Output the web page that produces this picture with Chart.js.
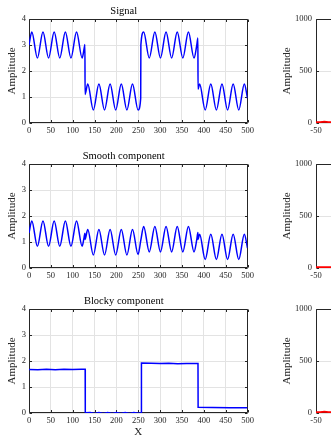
<!DOCTYPE html>
<html>
<head>
<meta charset="utf-8">
<script src="https://cdn.jsdelivr.net/npm/chart.js@4.4.0/dist/chart.umd.min.js"></script>
<style>
  html, body { margin: 0; padding: 0; background: #fff; }
  #wrap { position: relative; width: 331px; height: 436px; overflow: hidden; }
  canvas { position: absolute; }
</style>
</head>
<body>
<div id="wrap">
  <canvas id="sig" width="277" height="145" style="left:0;top:0"></canvas>
  <canvas id="smo" width="277" height="145" style="left:0;top:145px"></canvas>
  <canvas id="blk" width="277" height="149" style="left:0;top:290px"></canvas>
  <canvas id="sp1" width="277" height="145" style="left:277px;top:0"></canvas>
  <canvas id="sp2" width="277" height="145" style="left:277px;top:145px"></canvas>
  <canvas id="sp3" width="277" height="149" style="left:277px;top:290px"></canvas>
</div>
<script>
// tick labels
var xTicks = [0, 50, 100, 150, 200, 250, 300, 350, 400, 450, 500];
var yTicks = [0, 1, 2, 3, 4];
var specXTicks = [-50, 0, 50];
var specYTicks = [0, 500, 1000];

// signal (peaks / valleys / jumps)
var signalX = [0, 6.4, 19.2, 32, 44.8, 57.6, 70.4, 83.2, 96, 108.8, 121.6, 126, 128, 128.3,
  134.4, 147.2, 160, 172.8, 185.6, 198.4, 211.2, 224, 236.8, 249.6, 255.6, 256,
  262.4, 275.2, 288, 300.8, 313.6, 326.4, 339.2, 352, 364.8, 377.6, 384, 386.5, 386.8,
  390.4, 403.2, 416, 428.8, 441.6, 454.4, 467.2, 480, 492.8, 500];
var signalY = [3.0, 3.5, 2.5, 3.5, 2.5, 3.5, 2.5, 3.5, 2.5, 3.5, 2.5, 2.85, 3.02, 1.1,
  1.5, 0.5, 1.5, 0.5, 1.5, 0.5, 1.5, 0.5, 1.5, 0.5, 0.95, 3.0,
  3.5, 2.5, 3.5, 2.5, 3.5, 2.5, 3.5, 2.5, 3.5, 2.5, 3.0, 3.27, 1.3,
  1.5, 0.5, 1.5, 0.5, 1.5, 0.5, 1.5, 0.5, 1.5, 0.95];

// smooth component
var smoothX = [0, 6.4, 19.2, 32, 44.8, 57.6, 70.4, 83.2, 96, 108.8, 121.6, 126, 128, 128.3,
  134.4, 147.2, 160, 172.8, 185.6, 198.4, 211.2, 224, 236.8, 249.6, 256,
  262.4, 275.2, 288, 300.8, 313.6, 326.4, 339.2, 352, 364.8, 377.6, 384, 386.5, 386.8,
  390.4, 403.2, 416, 428.8, 441.6, 454.4, 467.2, 480, 492.8, 500];
var smoothY = [1.35, 1.81, 0.84, 1.81, 0.84, 1.81, 0.84, 1.81, 0.84, 1.81, 0.84, 1.17, 1.34, 1.1,
  1.48, 0.5, 1.48, 0.5, 1.48, 0.5, 1.48, 0.5, 1.48, 0.52, 1.08,
  1.6, 0.62, 1.6, 0.62, 1.6, 0.62, 1.6, 0.62, 1.6, 0.62, 1.1, 1.37, 1.1,
  1.3, 0.33, 1.3, 0.33, 1.3, 0.33, 1.3, 0.33, 1.3, 0.77];

// blocky component
var blockyX = [0, 20, 40, 60, 80, 100, 120, 128.5, 128.8, 140, 150, 160, 170, 180, 190, 200, 210,
  220, 230, 240, 250, 257, 257.3, 280, 300, 320, 340, 360, 386.7, 387, 420, 460, 500];
var blockyY = [1.67, 1.66, 1.68, 1.66, 1.68, 1.67, 1.68, 1.68, 0.01, 0.02, -0.02, 0.02, -0.02, 0.02,
  -0.02, 0.02, -0.02, 0.02, -0.02, 0.02, -0.01, 0.01, 1.92, 1.91, 1.9, 1.91, 1.89, 1.9, 1.9, 0.22,
  0.21, 0.2, 0.2];

// right column (only the left edge is visible)
var specX = [-50, -48, -46, -44, -42, -40, -35, -30, -20, -10, 0, 10, 20, 30, 40, 50];
var specY1 = [8, 8, 14, 9, 8, 8, 8, 8, 8, 8, 8, 8, 8, 8, 8, 8];
var specY2 = [8, 8, 8, 9, 8, 8, 8, 8, 8, 8, 8, 8, 8, 8, 8, 8];
var specY3 = [8, 8, 13, 9, 8, 8, 8, 8, 8, 8, 8, 8, 8, 8, 8, 8];

Chart.defaults.font.family = "'Liberation Serif', 'Times New Roman', serif";
Chart.defaults.color = '#262626';

function points(xs, ys) {
  return xs.map(function (x, i) { return { x: x, y: ys[i] }; });
}

function setTicks(values) {
  return function (scale) {
    scale.ticks = values.map(function (v) { return { value: v }; });
  };
}

// matlab style box with inward ticks
var boxPlugin = {
  id: 'box',
  beforeDatasetsDraw: function (chart) {
    var ctx = chart.ctx, a = chart.chartArea;
    var xs = chart.scales.x, ys = chart.scales.y;
    var l = Math.round(a.left) + 0.5, r = Math.round(a.right) - 0.5;
    var t = Math.round(a.top) + 0.5, b = Math.round(a.bottom) - 0.5;
    ctx.save();
    ctx.strokeStyle = '#262626';
    ctx.lineWidth = 1;
    ctx.beginPath();
    ctx.rect(l, t, r - l, b - t);
    xs.ticks.forEach(function (tk) {
      var p = Math.round(xs.getPixelForValue(tk.value)) + 0.5;
      ctx.moveTo(p, b); ctx.lineTo(p, b - 2.5);
      ctx.moveTo(p, t); ctx.lineTo(p, t + 2.5);
    });
    ys.ticks.forEach(function (tk) {
      var p = Math.round(ys.getPixelForValue(tk.value)) + 0.5;
      ctx.moveTo(l, p); ctx.lineTo(l + 2.5, p);
      ctx.moveTo(r, p); ctx.lineTo(r - 2.5, p);
    });
    ctx.stroke();
    ctx.restore();
  }
};

function makeChart(id, o) {
  var xTitle = o.xTitle ? { display: true, text: o.xTitle, color: '#262626', font: { size: 11 }, padding: { top: 0, bottom: 0 } } : { display: false };
  return new Chart(document.getElementById(id), {
    type: 'line',
    data: {
      datasets: [{
        data: points(o.xs, o.ys),
        borderColor: o.color,
        borderWidth: o.width,
        pointRadius: 0,
        fill: false,
        cubicInterpolationMode: o.smooth ? 'monotone' : 'default',
        tension: 0
      }]
    },
    options: {
      responsive: false,
      animation: false,
      devicePixelRatio: 1,
      layout: { padding: { left: 0, right: 29.5, top: o.title ? 0 : 19, bottom: 0 } },
      plugins: {
        legend: { display: false },
        tooltip: { enabled: false },
        title: {
          display: !!o.title,
          text: o.title,
          color: '#000',
          font: { size: 10.5, weight: 'normal' },
          padding: { top: 5.4, bottom: 1 }
        }
      },
      scales: {
        x: {
          type: 'linear',
          min: o.xMin, max: o.xMax,
          afterBuildTicks: setTicks(o.xTickList),
          afterFit: function (s) { s.height = o.bottomH; },
          ticks: { font: { size: 8.5 }, padding: 2.3, maxRotation: 0, autoSkip: false, color: '#262626',
            callback: function (v) { return String(v); } },
          grid: { color: '#e3e3e3', drawTicks: false },
          border: { display: false },
          title: xTitle
        },
        y: {
          min: o.yMin, max: o.yMax,
          afterBuildTicks: setTicks(o.yTickList),
          afterFit: function (s) { s.width = o.leftW; },
          ticks: { font: { size: 8.5 }, padding: o.tickPad, color: '#262626',
            callback: function (v) { return String(v); } },
          grid: { color: '#e3e3e3', drawTicks: false },
          border: { display: false },
          title: { display: true, text: 'Amplitude', color: '#262626', font: { size: 11 }, padding: { top: o.yTitlePad, bottom: 0 } }
        }
      }
    },
    plugins: [boxPlugin]
  });
}

var left = { xMin: 0, xMax: 500, yMin: 0, yMax: 4, xTickList: xTicks, yTickList: yTicks,
  leftW: 29, tickPad: 3, yTitlePad: 5.7, color: '#0000ff', width: 1.5 };
var right = { xMin: -50, xMax: 50, yMin: 0, yMax: 1000, xTickList: specXTicks, yTickList: specYTicks,
  leftW: 39, tickPad: 4, yTitlePad: 3.1, color: '#ff0000', width: 1.8, smooth: false };

makeChart('sig', Object.assign({}, left, { title: 'Signal', xs: signalX, ys: signalY, smooth: true, bottomH: 22 }));
makeChart('smo', Object.assign({}, left, { title: 'Smooth component', xs: smoothX, ys: smoothY, smooth: true, bottomH: 22 }));
makeChart('blk', Object.assign({}, left, { title: 'Blocky component', xs: blockyX, ys: blockyY, smooth: false, bottomH: 26, xTitle: 'X' }));
makeChart('sp1', Object.assign({}, right, { xs: specX, ys: specY1, bottomH: 22 }));
makeChart('sp2', Object.assign({}, right, { xs: specX, ys: specY2, bottomH: 22 }));
makeChart('sp3', Object.assign({}, right, { xs: specX, ys: specY3, bottomH: 26 }));
</script>
</body>
</html>
